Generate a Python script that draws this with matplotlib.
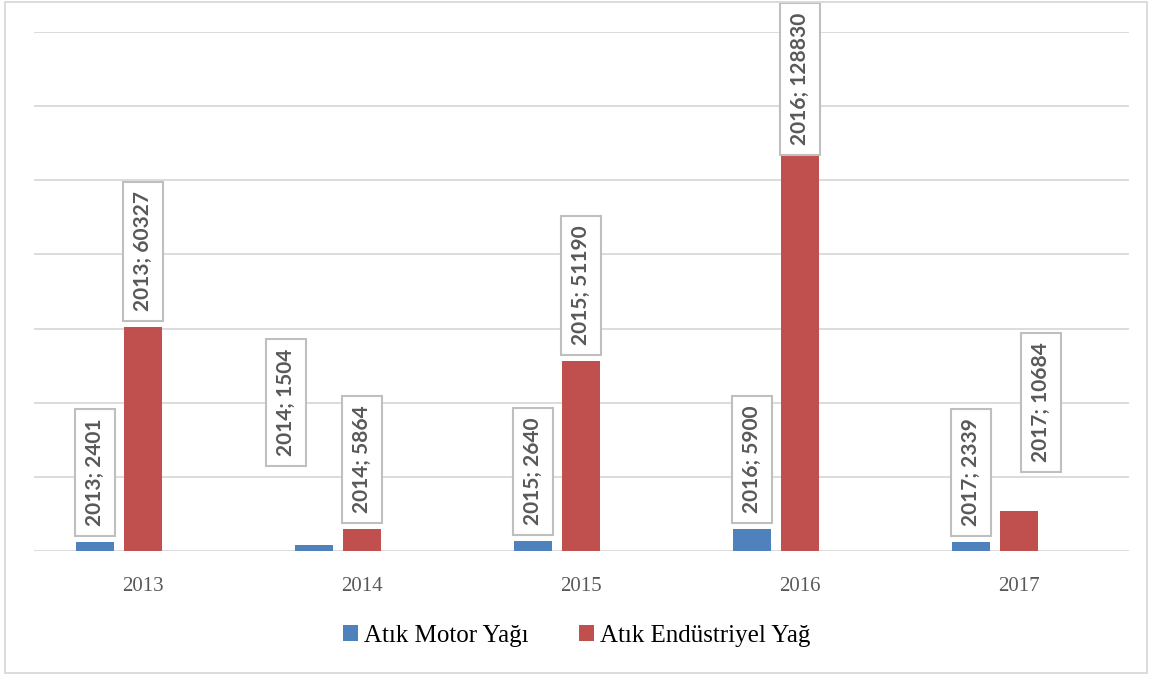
import matplotlib
matplotlib.use("Agg")
import matplotlib.pyplot as plt
from matplotlib.patches import Rectangle
import numpy as np

years = ["2013", "2014", "2015", "2016", "2017"]
motor_oil = [2401, 1504, 2640, 5900, 2339]
industrial_oil = [60327, 5864, 51190, 128830, 10684]
series_names = ["Atık Motor Yağı", "Atık Endüstriyel Yağ"]

blue = "#4F81BD"
red = "#C0504D"
grid_gray = "#D9D9D9"
label_gray = "#595959"

fig = plt.figure(figsize=(11.53, 6.75), dpi=100)
ax = fig.add_axes([33.5 / 1153, 124 / 675, 1095 / 1153, 519 / 675])

x = np.arange(len(years))
step = 48 / 219
width = 38 / 219

bars_m = ax.bar(x - step, motor_oil, width, color=blue, zorder=2, label=series_names[0])
bars_i = ax.bar(x, industrial_oil, width, color=red, zorder=2, label=series_names[1])

ax.set_xlim(-0.5, len(years) - 0.5)
ax.set_ylim(0, 140000)
ax.set_yticks(np.arange(0, 140001, 20000))
ax.yaxis.grid(True, color=grid_gray, lw=1.3, zorder=0)
ax.set_yticklabels([])
ax.tick_params(axis="y", length=0)
ax.tick_params(axis="x", length=0, pad=19)
ax.set_xticks(x)
ax.set_xticklabels(years, family="Liberation Serif", fontsize=15, color=label_gray)
for s in ax.spines.values():
    s.set_visible(False)

# data labels: "year; value" in boxes above each bar
pad_px = 10
box = dict(boxstyle="square,pad=0.47", fc="white", ec="#BFBFBF", lw=1.5)
# some labels were dragged away from their bars (pixel shifts)
shifts = {(0, 1): (-28, 73), (1, 4): (22, 33)}

for si, (bars, vals) in enumerate([(bars_m, motor_oil), (bars_i, industrial_oil)]):
    for i, (b, v) in enumerate(zip(bars, vals)):
        cx = b.get_x() + b.get_width() / 2
        txt = f"{years[i]}; {v}"
        kw = dict(rotation=90, ha="center", fontsize=15, fontweight="bold",
                  family="Lato", color=label_gray, bbox=box, zorder=5,
                  annotation_clip=False)
        if (si, i) == (1, 3):
            # tallest bar: label pinned to the top edge of the chart
            ax.annotate(txt, xy=(cx, 675 - 3 - pad_px),
                        xycoords=("data", "figure pixels"), va="top", **kw)
            continue
        dx, dy = shifts.get((si, i), (0, 0))
        ax.annotate(txt, xy=(cx, v), xytext=(dx, 6 + pad_px + dy),
                    textcoords="offset pixels", va="bottom", **kw)

leg = fig.legend(handles=[bars_m, bars_i], labels=series_names,
                 loc="center", bbox_to_anchor=(0.5, 39 / 675), ncol=2,
                 frameon=False, handlelength=0.6, handleheight=0.6,
                 handletextpad=0.25, columnspacing=2.0,
                 prop=dict(family="Liberation Serif", size=18))

fig.patches.append(Rectangle((5 / 1153, 2 / 675), 1142 / 1153, 671 / 675,
                             transform=fig.transFigure, fill=False,
                             ec=grid_gray, lw=1.3))

fig.savefig("out.png", dpi=100)
